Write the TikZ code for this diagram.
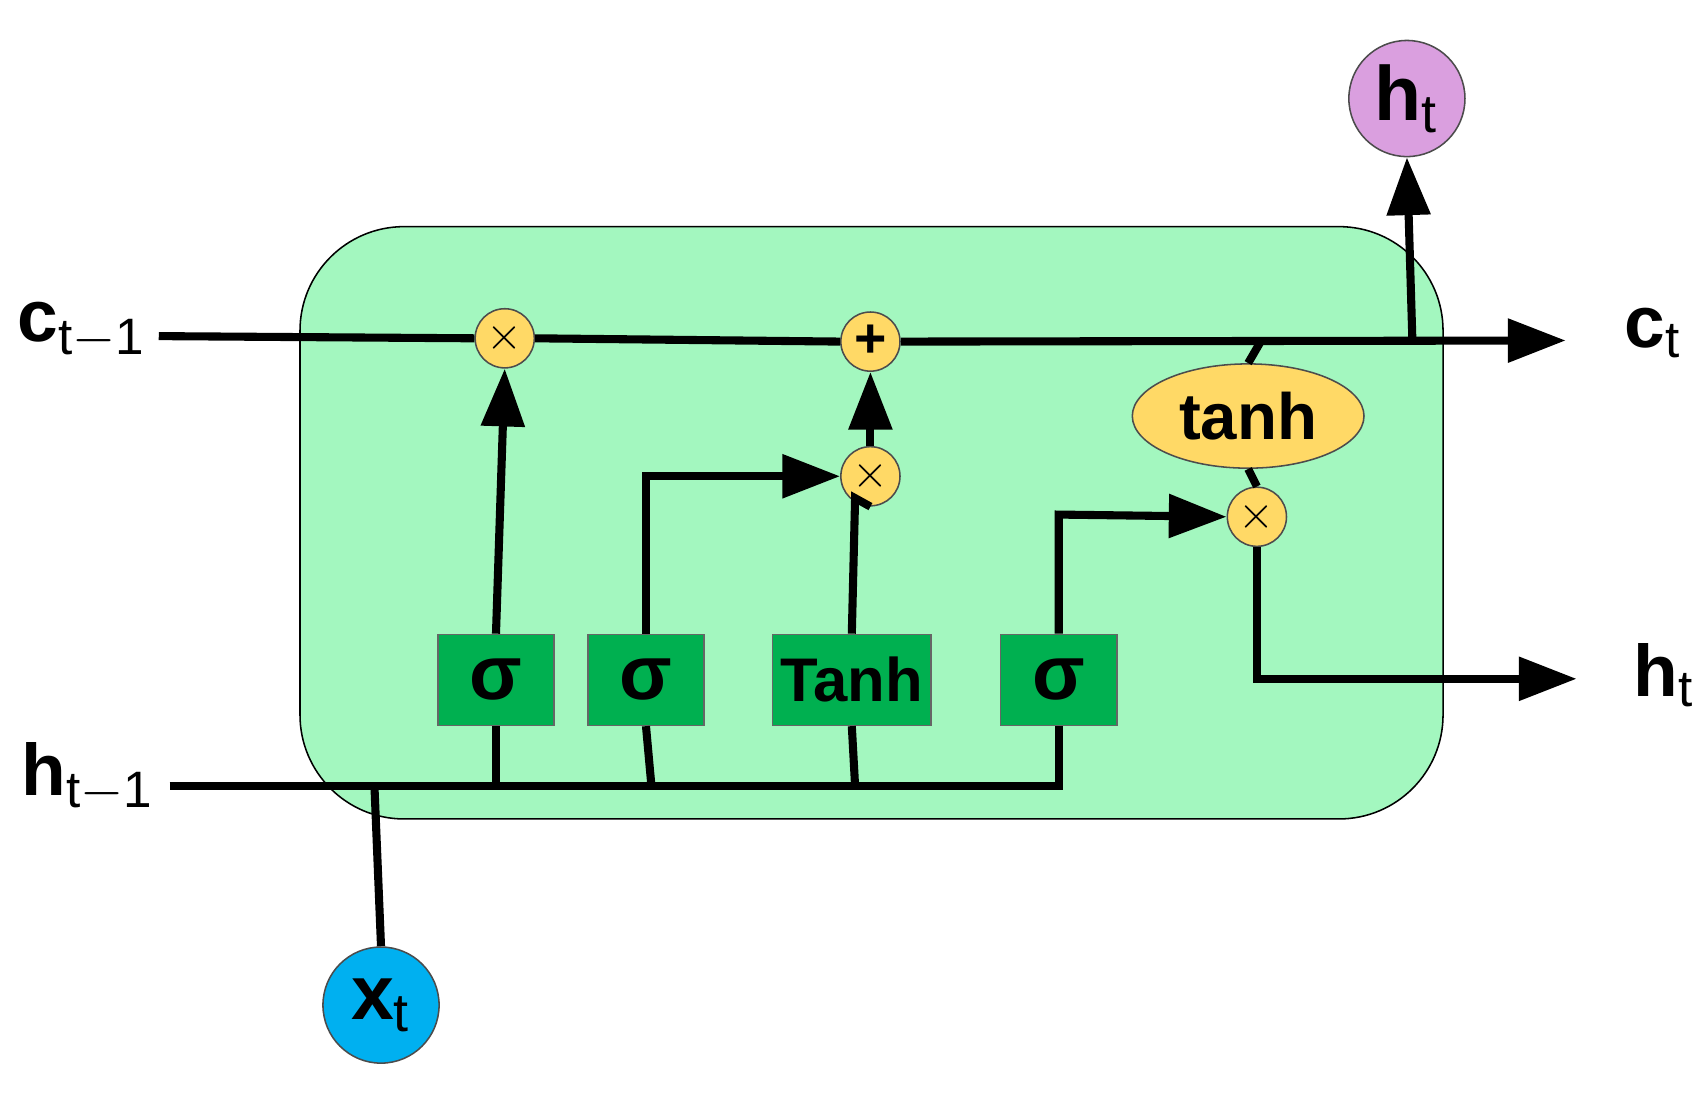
\documentclass[tikz,border=0pt]{standalone}
\usepackage{fontspec}
\setmainfont{Liberation Sans}
\usetikzlibrary{arrows.meta,shapes.geometric}
\definecolor{cellg}{HTML}{A3F7BF}
\definecolor{boxg}{HTML}{00B050}
\definecolor{opy}{HTML}{FFD966}
\definecolor{xb}{HTML}{00B0F0}
\definecolor{hp}{HTML}{DA9FDF}
\begin{document}
\begin{tikzpicture}[x=0.01cm,y=-0.01cm,
 w/.style={line width=2.1pt},
 arr/.style={w,-{Triangle[length=15pt,width=11pt]}},
 op/.style={circle,draw=black!70,thin,fill=opy,minimum size=0.54cm,inner sep=0pt,font=\large},
 gate/.style={draw=black!60,thin,fill=boxg,minimum width=1.06cm,minimum height=0.83cm,inner sep=0pt,font=\bfseries\fontsize{20}{20}\selectfont},
 io/.style={circle,draw=black!70,thin,minimum size=1.06cm,inner sep=0pt,font=\bfseries\fontsize{20}{20}\selectfont},
 lab/.style={font=\bfseries\fontsize{19}{19}\selectfont}]
\useasboundingbox (0,0) rectangle (1560,1007);
\draw[thin,fill=cellg,rounded corners=0.95cm] (274,207) rectangle (1318,748);
% labels
\node[lab] (cin) at (75,302) {c$_{\mathrm{t-1}}$};
\node[lab] (cout) at (1510,304) {c$_{\mathrm t}$};
\node[lab] (hin) at (80,710) {h$_{\mathrm{t-1}}$};
\node[lab] (hout) at (1520,617) {h$_{\mathrm t}$};
\node[io,fill=xb] (xt) at (348,918) {x$_{\mathrm t}$};
\node[io,fill=hp] (ht) at (1285,90) {h$_{\mathrm t}$};
% gates
\node[gate] (g1) at (453,621) {σ};
\node[gate] (g2) at (590,621) {σ};
\node[gate,minimum width=1.45cm,font=\bfseries\fontsize{16}{16}\selectfont] (g3) at (778,621) {Tanh};
\node[gate] (g4) at (967,621) {σ};
% ops
\node[op] (m1) at (461,309) {$\times$};
\node[op,font=\bfseries\Large] (pl) at (795,312) {+};
\node[op] (m2) at (795,435) {$\times$};
\node[op] (m3) at (1148,472) {$\times$};
\node[ellipse,draw=black!70,thin,fill=opy,minimum width=1.8cm,minimum height=0.64cm,font=\bfseries\fontsize{17}{17}\selectfont] (th) at (1140,380) {tanh};
\coordinate (cs) at (145,307);
\coordinate (ce) at (1430,311);
\coordinate (hs) at (155,718);
\coordinate (he) at (967,718);
\coordinate (hend) at (1440,620);
% cell state
\draw[w] (cs) -- (m1.west);
\draw[w] (m1.east) -- (pl.west);
\draw[arr] (pl.east) -- (ce);
\draw[arr] (1290,311) -- (ht.south);
% hidden input
\draw[w] (hs) -- (he) -- (g4.south);
\draw[w] (xt.north) -- (342,718);
\draw[w] (g1.south) -- (453,718);
\draw[w] (g2.south) -- (595,718);
\draw[w] (g3.south) -- (781,718);
% gates to ops
\draw[arr] (g1.north) -- (m1.south);
\draw[arr] (g2.north) -- (590,435) -- (m2.west);
\draw[w] (g3.north) -- (781,455) -- (m2.south);
\draw[arr] (m2.north) -- (pl.south);
\draw[arr] (g4.north) -- (967,470) -- (m3.west);
\draw[w] (1152,311) -- (th.north);
\draw[w] (th.south) -- (m3.north);
\draw[arr] (m3.south) -- (1148,620) -- (hend);
\end{tikzpicture}
\end{document}
